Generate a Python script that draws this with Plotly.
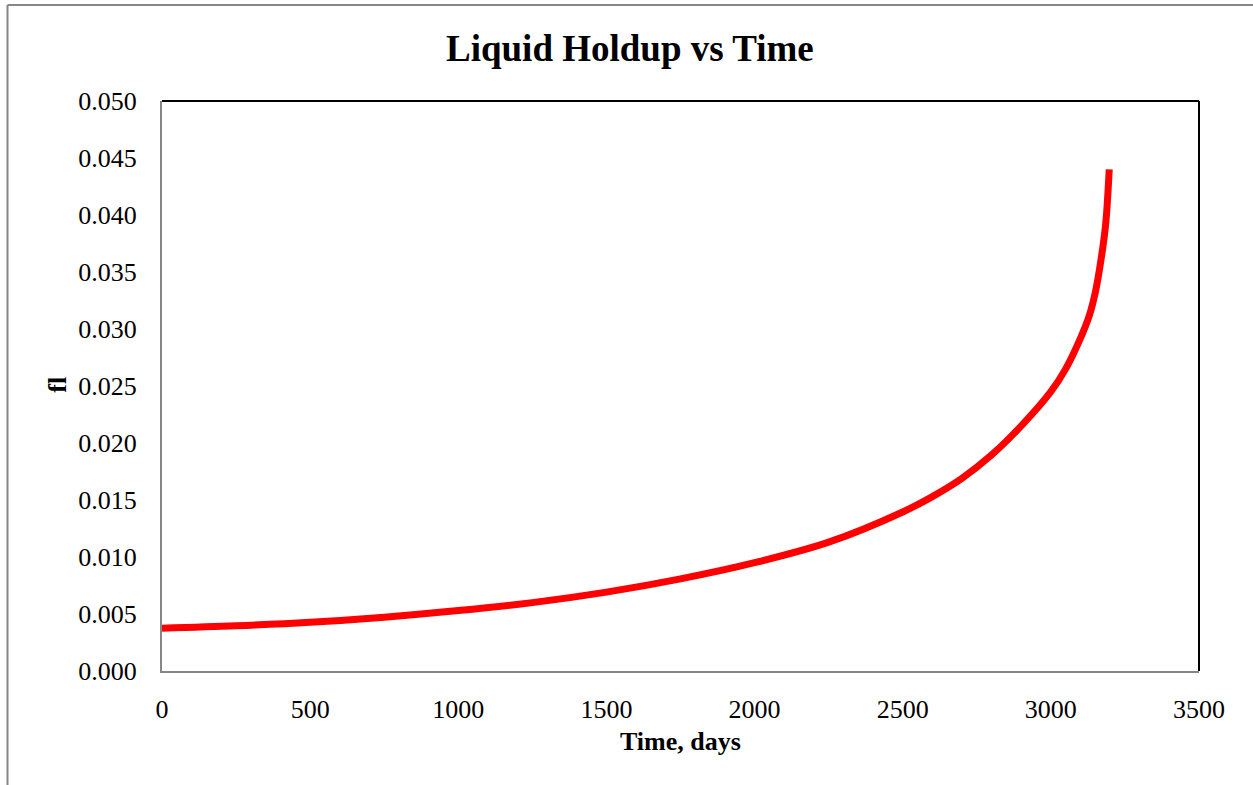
import plotly.graph_objects as go

# Liquid holdup (fl) over production time
time_days = [0, 250, 500, 750, 1000, 1250, 1500, 1750, 2000, 2250, 2500,
             2600, 2700, 2800, 2900, 3000, 3050, 3100, 3130, 3150, 3170,
             3185, 3197]
holdup_fl = [0.00375, 0.00396, 0.00427, 0.00472, 0.00530, 0.00600, 0.00692,
             0.00808, 0.00950, 0.01130, 0.01395, 0.01530, 0.01690, 0.01895,
             0.02150, 0.02450, 0.02650, 0.02920, 0.03120, 0.03320, 0.03620,
             0.03920, 0.04400]

x_ticks = [0, 500, 1000, 1500, 2000, 2500, 3000, 3500]
y_ticks = [0.000, 0.005, 0.010, 0.015, 0.020, 0.025, 0.030, 0.035, 0.040, 0.045, 0.050]

SERIF = "Liberation Serif, Times New Roman, serif"
AXIS_GREY = "#868686"

fig = go.Figure()
fig.add_trace(go.Scatter(
    x=time_days, y=holdup_fl, mode="lines",
    line=dict(color="#FF0000", width=7, shape="spline", smoothing=1.0),
    showlegend=False, hoverinfo="x+y",
))

W, H = 1253, 785
L, R, T, B = 162, 1199, 101, 671.5
pw, ph = R - L, B - T

def px_x(x):
    return (x - L) / pw

def px_y(y):
    return (B - y) / ph

fig.update_layout(
    width=W, height=H,
    margin=dict(l=L, r=W - R, t=T, b=H - B),
    paper_bgcolor="white", plot_bgcolor="white",
    font=dict(family=SERIF, size=26, color="black"),
    xaxis=dict(
        range=[0, 3500], tickvals=x_ticks, ticktext=[str(v) for v in x_ticks],
        showgrid=False, zeroline=False, showline=True, linecolor=AXIS_GREY,
        linewidth=2, ticks="", ticklabelstandoff=14,
        tickfont=dict(family=SERIF, size=26, color="black"),
    ),
    yaxis=dict(
        range=[0, 0.05], tickvals=y_ticks, ticktext=[f"{v:.3f}" for v in y_ticks],
        showgrid=False, zeroline=False, showline=True, linecolor=AXIS_GREY,
        linewidth=2, ticks="", ticklabelstandoff=18,
        tickfont=dict(family=SERIF, size=26, color="black"),
    ),
    shapes=[
        # black frame on the top and right of the plot area
        dict(type="line", xref="paper", yref="paper", x0=0, x1=1, y0=1, y1=1,
             line=dict(color="black", width=2)),
        dict(type="line", xref="paper", yref="paper", x0=1, x1=1, y0=0, y1=1,
             line=dict(color="black", width=2)),
        # chart-area border (left and top)
        dict(type="line", xref="paper", yref="paper",
             x0=px_x(7.5), x1=px_x(7.5), y0=px_y(5), y1=px_y(800),
             line=dict(color=AXIS_GREY, width=2)),
        dict(type="line", xref="paper", yref="paper",
             x0=px_x(7.5), x1=px_x(1260), y0=px_y(5), y1=px_y(5),
             line=dict(color=AXIS_GREY, width=2)),
    ],
    annotations=[
        dict(text="<b>Liquid Holdup vs Time</b>", xref="paper", yref="paper",
             x=px_x(630), y=px_y(48), xanchor="center", yanchor="middle",
             showarrow=False, font=dict(family=SERIF, size=37, color="black")),
        dict(text="<b>Time, days</b>", xref="paper", yref="paper",
             x=px_x(680), y=px_y(742), xanchor="center", yanchor="middle",
             showarrow=False, font=dict(family=SERIF, size=26, color="black")),
        dict(text="<b>fl</b>", xref="paper", yref="paper",
             x=px_x(58), y=px_y(385), xanchor="center", yanchor="middle",
             textangle=-90, showarrow=False,
             font=dict(family=SERIF, size=26, color="black")),
    ],
)

fig.write_html("out.html")
